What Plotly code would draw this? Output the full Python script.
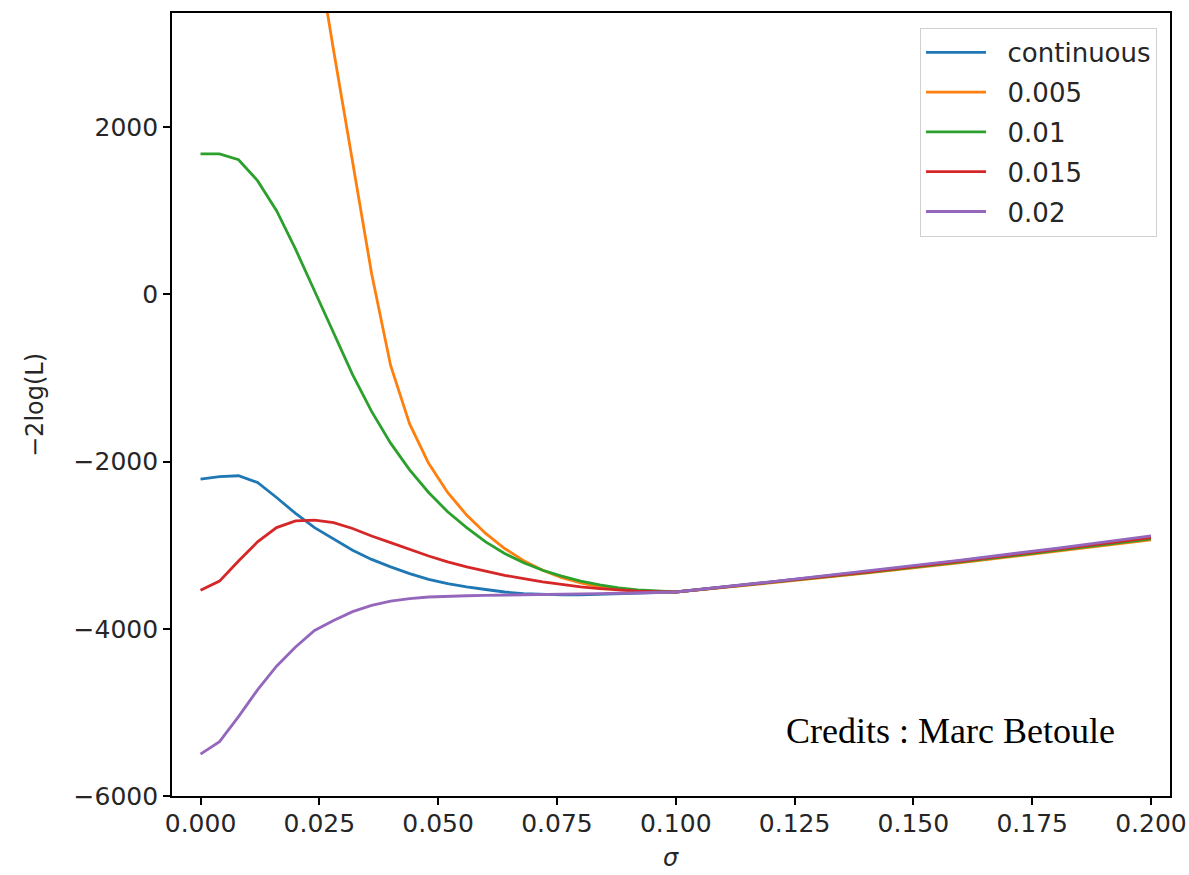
import plotly.graph_objects as go

sigma = [0.000, 0.004, 0.008, 0.012, 0.016, 0.020, 0.024, 0.028, 0.032, 0.036,
         0.040, 0.044, 0.048, 0.052, 0.056, 0.060, 0.064, 0.068, 0.072, 0.076,
         0.080, 0.084, 0.088, 0.092, 0.096, 0.100, 0.120, 0.140, 0.160, 0.180, 0.200]

continuous = [-2210, -2180, -2170, -2250, -2430, -2620, -2790, -2930, -3060, -3170,
              -3260, -3340, -3410, -3460, -3500, -3530, -3560, -3580, -3590, -3595,
              -3595, -3590, -3582, -3574, -3566, -3560, -3440, -3318, -3186, -3050, -2905]

s_0005 = [14000, 12500, 11000, 9500, 7900, 6100, 4300, 2920, 1590, 250,
          -850, -1550, -2020, -2370, -2640, -2860, -3040, -3185, -3300, -3390,
          -3450, -3500, -3530, -3550, -3558, -3562, -3450, -3335, -3210, -3075, -2935]

s_001 = [1680, 1680, 1610, 1360, 1000, 540, 40, -470, -960, -1400,
         -1780, -2100, -2370, -2600, -2790, -2960, -3100, -3210, -3300, -3370,
         -3430, -3475, -3510, -3535, -3552, -3560, -3445, -3328, -3200, -3065, -2925]

s_0015 = [-3540, -3430, -3190, -2960, -2790, -2710, -2700, -2730, -2800, -2890,
          -2970, -3050, -3130, -3200, -3260, -3310, -3360, -3400, -3440, -3470,
          -3500, -3520, -3538, -3550, -3556, -3560, -3442, -3322, -3192, -3055, -2910]

s_002 = [-5500, -5350, -5050, -4730, -4447, -4218, -4020, -3900, -3795, -3720,
         -3670, -3640, -3620, -3610, -3605, -3600, -3598, -3595, -3592, -3590,
         -3585, -3580, -3575, -3570, -3565, -3560, -3438, -3312, -3178, -3038, -2890]

series_names = ["continuous", "0.005", "0.01", "0.015", "0.02"]
series_values = [continuous, s_0005, s_001, s_0015, s_002]
colors = ["#1f77b4", "#ff7f0e", "#2ca02c", "#d62728", "#9467bd"]

x_ticks = [0.000, 0.025, 0.050, 0.075, 0.100, 0.125, 0.150, 0.175, 0.200]
y_ticks = [-6000, -4000, -2000, 0, 2000]

fig = go.Figure()
for i, (name, vals, col) in enumerate(zip(series_names, series_values, colors)):
    fig.add_trace(go.Scatter(x=sigma, y=vals, mode="lines",
                             name="\u00a0\u00a0" + name,
                             legendgroup=f"g{i}",
                             line=dict(color=col, width=2.8)))

font_main = "DejaVu Sans"
fig.update_layout(
    width=1189, height=875,
    margin=dict(l=172, r=19, t=13, b=79, autoexpand=False),
    paper_bgcolor="white", plot_bgcolor="white",
    font=dict(family=font_main, size=25, color="#262626"),
    showlegend=True,
    legend=dict(x=0.987, y=0.981, xanchor="right", yanchor="top",
                bgcolor="rgba(255,255,255,0.9)", bordercolor="#d0d0d0", borderwidth=1,
                font=dict(family=font_main, size=26, color="#262626"),
                tracegroupgap=3, traceorder="grouped", itemwidth=60),
)
fig.update_xaxes(range=[-0.0060, 0.2040], tickvals=x_ticks,
                 ticktext=[f"{v:.3f}" for v in x_ticks],
                 showgrid=False, zeroline=False, showline=True, linecolor="black",
                 linewidth=1.6, mirror=True, ticks="outside", ticklen=7, tickwidth=1.5,
                 tickcolor="black", automargin=False, ticklabelstandoff=-3)
fig.update_yaxes(range=[-6000, 3365], tickvals=y_ticks,
                 ticktext=["\u22126000", "\u22124000", "\u22122000", "0", "2000"],
                 showgrid=False, zeroline=False, showline=True, linecolor="black",
                 linewidth=1.6, mirror=True, ticks="outside", ticklen=7, tickwidth=1.5,
                 tickcolor="black", automargin=False)

# axis titles (paper coords relative to plot area spanning x 172..1170, y 13..796)
fig.add_annotation(text="<i>σ</i>", xref="paper", yref="paper",
                   x=(671 - 172) / 998, y=1 - (858 - 13) / 783,
                   xanchor="center", yanchor="middle", showarrow=False,
                   font=dict(family=font_main, size=24, color="#262626"))
fig.add_annotation(text="\u22122log(L)", xref="paper", yref="paper",
                   x=(35 - 172) / 998, y=1 - (405 - 13) / 783, textangle=-90,
                   xanchor="center", yanchor="middle", showarrow=False,
                   font=dict(family=font_main, size=24, color="#262626"))

fig.add_annotation(text="Credits : Marc Betoule", xref="paper", yref="paper",
                   x=(950 - 172) / 998, y=1 - (731 - 13) / 783,
                   xanchor="center", yanchor="middle", showarrow=False,
                   font=dict(family="Liberation Serif", size=36, color="black"))

fig.write_html("out.html",
               config={"displayModeBar": False},
               post_script="document.body.style.margin='0';"
                           "document.body.style.overflow='hidden';")
